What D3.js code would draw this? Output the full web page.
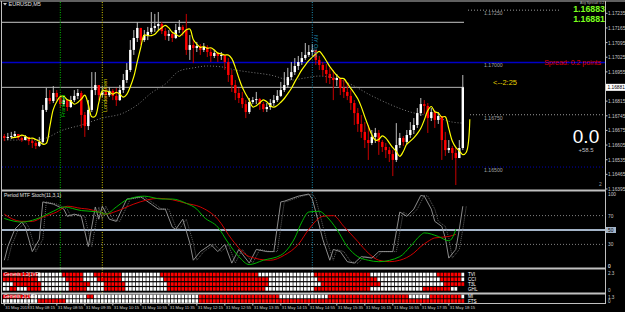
<!DOCTYPE html>
<html>
<head>
<meta charset="utf-8">
<script src="https://cdn.jsdelivr.net/npm/d3@7"></script>
<style>
body { margin: 0; background: #000; }
svg { display: block; font-family: "Liberation Sans", Arial, sans-serif; }
</style>
</head>
<body>
<svg id="chart" width="625" height="312"></svg>
<script>
// EURUSD M5, 31 May 2018, bars 07:40 .. 18:35
const firstOpen = 1.16648;
const closes = [1.16639,1.16644,1.16648,1.16658,1.16639,1.16629,1.16644,1.16624,1.16615,1.16601,
  1.16620,1.16773,1.16830,1.16816,1.16854,1.16835,1.16801,1.16820,1.16787,1.16820,
  1.16840,1.16854,1.16749,1.16696,1.16773,1.16868,1.16892,1.16844,1.16859,1.16844,
  1.16864,1.16840,1.16820,1.16868,1.16916,1.16964,1.17060,1.17117,1.17165,1.17107,
  1.17131,1.17146,1.17165,1.17174,1.17184,1.17150,1.17127,1.17136,1.17117,1.17155,
  1.17170,1.17155,1.17060,1.17083,1.17069,1.17079,1.17060,1.17074,1.17050,1.17031,
  1.17045,1.17031,1.17036,1.17002,1.16940,1.16892,1.16854,1.16830,1.16801,1.16763,
  1.16811,1.16820,1.16825,1.16801,1.16777,1.16787,1.16806,1.16820,1.16840,1.16868,
  1.16892,1.16930,1.16954,1.16983,1.17002,1.17021,1.17036,1.17050,1.17060,1.17012,
  1.16988,1.16964,1.16945,1.16926,1.16916,1.16926,1.16878,1.16859,1.16840,1.16806,
  1.16758,1.16706,1.16668,1.16629,1.16615,1.16644,1.16663,1.16620,1.16596,1.16581,
  1.16562,1.16534,1.16605,1.16639,1.16620,1.16653,1.16677,1.16701,1.16758,1.16801,
  1.16792,1.16734,1.16763,1.16725,1.16744,1.16629,1.16581,1.16591,1.16567,1.16543,
  1.16591,1.16881];
const highs = [1.16658,1.16663,1.16668,1.16672,1.16658,1.16648,1.16653,1.16644,1.16634,1.16624,
  1.16644,1.16797,1.16878,1.16868,1.16887,1.16868,1.16844,1.16840,1.16825,1.16840,
  1.16868,1.16873,1.16864,1.16763,1.16820,1.16954,1.16954,1.16892,1.16887,1.16878,
  1.16883,1.16873,1.16878,1.16892,1.16945,1.16997,1.17107,1.17155,1.17193,1.17155,
  1.17155,1.17170,1.17241,1.17232,1.17241,1.17193,1.17165,1.17155,1.17146,1.17184,
  1.17203,1.17179,1.17232,1.17131,1.17107,1.17098,1.17088,1.17093,1.17083,1.17069,
  1.17060,1.17050,1.17050,1.17036,1.17021,1.16964,1.16916,1.16878,1.16859,1.16820,
  1.16830,1.16835,1.16859,1.16830,1.16811,1.16806,1.16825,1.16844,1.16868,1.16907,
  1.16954,1.16974,1.17002,1.17021,1.17031,1.17050,1.17093,1.17083,1.17088,1.17060,
  1.17031,1.17002,1.16993,1.16974,1.16964,1.16945,1.16926,1.16916,1.16907,1.16868,
  1.16820,1.16782,1.16749,1.16715,1.16701,1.16677,1.16687,1.16677,1.16629,1.16615,
  1.16596,1.16581,1.16710,1.16663,1.16648,1.16677,1.16715,1.16734,1.16782,1.16830,
  1.16820,1.16806,1.16782,1.16773,1.16763,1.16734,1.16668,1.16629,1.16601,1.16591,
  1.16629,1.16940];
const lows = [1.16624,1.16629,1.16634,1.16639,1.16629,1.16620,1.16629,1.16605,1.16591,1.16586,
  1.16596,1.16610,1.16763,1.16801,1.16806,1.16820,1.16782,1.16792,1.16768,1.16782,
  1.16811,1.16825,1.16687,1.16644,1.16677,1.16763,1.16844,1.16820,1.16835,1.16825,
  1.16835,1.16820,1.16792,1.16816,1.16854,1.16902,1.16954,1.17036,1.17098,1.17083,
  1.17098,1.17107,1.17136,1.17146,1.17155,1.17136,1.17107,1.17103,1.17098,1.17112,
  1.17141,1.17127,1.17036,1.17012,1.16997,1.17050,1.17036,1.17050,1.17026,1.17002,
  1.17021,1.17002,1.17012,1.16964,1.16907,1.16859,1.16820,1.16806,1.16782,1.16734,
  1.16754,1.16801,1.16801,1.16773,1.16763,1.16763,1.16773,1.16792,1.16811,1.16835,
  1.16859,1.16878,1.16916,1.16940,1.16964,1.16988,1.17012,1.17026,1.17031,1.16988,
  1.16964,1.16935,1.16902,1.16897,1.16820,1.16887,1.16844,1.16830,1.16820,1.16773,
  1.16701,1.16668,1.16639,1.16591,1.16534,1.16605,1.16615,1.16558,1.16572,1.16543,
  1.16524,1.16457,1.16524,1.16591,1.16601,1.16605,1.16639,1.16658,1.16687,1.16744,
  1.16754,1.16663,1.16720,1.16687,1.16706,1.16534,1.16553,1.16567,1.16534,1.16414,
  1.16553,1.16581];

// slow moving average (grey dotted), read at some bars: [bar, price]
const slowMA = [[0,1.16629],[8,1.16629],[12,1.16639],[16,1.16672],[22,1.16701],[28,1.16734],
  [34,1.16758],[38,1.16797],[42,1.16854],[46,1.16897],[50,1.16959],[54,1.16974],[58,1.16983],
  [62,1.16979],[66,1.16964],[70,1.16954],[76,1.16940],[82,1.16916],[86,1.16926],[90,1.16935],
  [96,1.16916],[100,1.16887],[104,1.16849],[108,1.16816],[112,1.16787],[116,1.16763],
  [120,1.16749],[124,1.16734],[128,1.16715],[131,1.16710]];

// stochastic window: [bar, value]
const stochMain = [[0,8],[1,27],[3,51],[5,61],[6,54],[8,20],[10,37],[11,89],[14,86],[17,79],[18,69],
  [20,72],[22,69],[24,27],[26,82],[27,65],[28,83],[30,65],[32,62],[35,93],[39,96],[42,86],[44,79],
  [46,79],[48,54],[49,51],[51,65],[53,32],[54,8],[56,20],[59,30],[61,20],[63,30],[65,4],[67,23],
  [70,4],[72,23],[75,20],[77,20],[79,89],[80,90],[84,97],[87,100],[88,93],[89,75],[91,37],[93,8],
  [94,23],[96,20],[98,6],[100,4],[102,13],[105,11],[107,20],[111,20],[113,75],[115,69],[117,79],
  [119,98],[120,97],[122,79],[123,62],[125,55],[126,39],[127,11],[129,23],[130,51],[131,83]];
const stochGreen = [[0,66],[5,61],[9,65],[14,76],[17,82],[22,77],[27,75],[29,72],[32,82],[35,92],
  [40,97],[45,93],[48,93],[52,87],[55,79],[57,68],[61,54],[64,32],[67,13],[70,2],[74,8],[79,15],
  [83,39],[85,61],[87,75],[90,76],[92,69],[95,51],[98,27],[101,13],[104,8],[107,6],[113,13],
  [116,27],[119,43],[120,46],[124,41],[127,35],[128,39],[129,51]];
const stochRed = [[0,72],[2,66],[5,62],[8,62],[11,68],[15,75],[18,83],[22,80],[24,79],[27,75],
  [29,72],[32,76],[37,86],[41,92],[44,94],[48,92],[52,87],[56,82],[61,65],[65,37],[70,13],[76,8],
  [80,15],[84,30],[87,51],[91,69],[94,70],[97,55],[101,34],[104,18],[107,8],[110,6],[113,8],
  [117,18],[119,27],[121,34],[123,39],[127,41],[129,44]];
const stochLevels = [70, 50, 30];
const stochTicks = ["100", "70", "50", "30", "0"];

// Genesis matrix rows, run lengths per bar (R = red, W = white)
const genesisNames = ["TVI", "CCI", "T3L", "GHL"];
const genesisRuns = [
  "R10W7R6W3R8W11R28W16R16W19R7W1",
  "R10W8R5W4R7W12R30W14R17W18R6W1",
  "W3R8W8R6W4R6W12R29W15R17W18R6",
  "W2R2W3R4W8R5W5R6W12R28W14R16W15R8W2"];
const genesis2Names = ["MI", "FTS"];
const genesis2Runs = [
  "R8W16R2W30R23W14R23W6R9W1",
  "W10R8W38R76"];

// levels and annotations
const roundLevels = [1.17250, 1.17000, 1.16750, 1.16500];
const dayHigh = 1.17192;
const bid = 1.16881, ask = 1.16883;
const priceTicks = ["1.17235","1.17165","1.17095","1.17025","1.16955","1.16885","1.16815",
  "1.16745","1.16675","1.16605","1.16535","1.16465","1.16395"];
const timeLabels = ["31 May 2018","31 May 08:15","31 May 08:55","31 May 09:35","31 May 10:15",
  "31 May 10:55","31 May 11:35","31 May 12:15","31 May 12:55","31 May 13:35","31 May 14:15",
  "31 May 14:55","31 May 15:35","31 May 16:15","31 May 16:55","31 May 17:35","31 May 18:15"];
const timeBars = [0,7,15,23,31,39,47,55,63,71,79,87,95,103,111,119,127];
const sessions = [
  { bar: 16, name: "Frankfurt", color: "#00c800" },
  { bar: 28, name: "London Open", color: "#d4c800" },
  { bar: 88, name: "NY Open", color: "#1e90b4" }];

const svg = d3.select("#chart");
const W = 625, H = 312;
const left = 2, right = 605.5;

svg.append("rect").attr("width", W).attr("height", H).attr("fill", "#000");

const x = d3.scaleLinear().domain([0, 131]).range([4.3, 462.8]);
const y = d3.scaleLinear().domain([1.16395, 1.17235]).range([189, 13.3]);
const ys = d3.scaleLinear().domain([0, 100]).range([266, 194]);

svg.append("clipPath").attr("id", "mainClip")
  .append("rect").attr("x", left).attr("y", 2).attr("width", right - left).attr("height", 188);
svg.append("clipPath").attr("id", "stochClip")
  .append("rect").attr("x", left).attr("y", 192).attr("width", right - left).attr("height", 76);

const main = svg.append("g").attr("clip-path", "url(#mainClip)");

// round levels
main.append("line").attr("x1", 468).attr("x2", 560).attr("y1", y(roundLevels[0])).attr("y2", y(roundLevels[0]))
  .attr("stroke", "#9a9a9a").attr("stroke-dasharray", "1,2");
main.append("line").attr("x1", left).attr("x2", right).attr("y1", y(roundLevels[1])).attr("y2", y(roundLevels[1]))
  .attr("stroke", "#0000c8").attr("stroke-width", 1.5);
main.append("line").attr("x1", 470).attr("x2", right).attr("y1", y(roundLevels[2])).attr("y2", y(roundLevels[2]))
  .attr("stroke", "#9a9a9a").attr("stroke-dasharray", "1,2");
main.append("line").attr("x1", left).attr("x2", right).attr("y1", y(roundLevels[3])).attr("y2", y(roundLevels[3]))
  .attr("stroke", "#0000b4").attr("stroke-dasharray", "1,2");
roundLevels.forEach(v => {
  main.append("text").attr("x", 484).attr("y", y(v) + 5).attr("font-size", 5.2)
    .attr("fill", "#a0a0a0").text(v.toFixed(5));
});

// day high and bid line
main.append("line").attr("x1", left).attr("x2", 464).attr("y1", y(dayHigh)).attr("y2", y(dayHigh))
  .attr("stroke", "#c8c8c8");
main.append("line").attr("x1", left).attr("x2", 464).attr("y1", y(bid)).attr("y2", y(bid))
  .attr("stroke", "#b4b4b4");

// session lines
sessions.forEach(s => {
  svg.append("line").attr("x1", x(s.bar)).attr("x2", x(s.bar)).attr("y1", 2).attr("y2", 303)
    .attr("stroke", s.color).attr("stroke-dasharray", "1,1.5");
});

// slow MA
main.append("path").datum(slowMA)
  .attr("d", d3.line().x(d => x(d[0])).y(d => y(d[1])).curve(d3.curveMonotoneX))
  .attr("fill", "none").attr("stroke", "#7a7a7a").attr("stroke-dasharray", "1,2");

// candles
const bars = closes.map((c, i) => {
  const o = i === 0 ? firstOpen : closes[i - 1];
  return { i, o, c, h: Math.max(highs[i], o, c), l: Math.min(lows[i], o, c) };
});
const cg = main.append("g");
cg.selectAll("line.wick").data(bars).join("line")
  .attr("x1", d => x(d.i)).attr("x2", d => x(d.i))
  .attr("y1", d => y(d.h)).attr("y2", d => y(d.l))
  .attr("stroke", d => d.c >= d.o ? "#bdbdbd" : "#c80000");
cg.selectAll("rect").data(bars).join("rect")
  .attr("x", d => x(d.i) - 1.2).attr("width", 2.4)
  .attr("y", d => y(Math.max(d.o, d.c)))
  .attr("height", d => Math.max(1, Math.abs(y(d.o) - y(d.c))))
  .attr("fill", d => d.c >= d.o ? "#ffffff" : "#ff0000");

// fast MA: 3-bar weighted average of closes, shifted 2 bars forward
const fast = closes.map((c, i) => {
  const a = closes[Math.max(0, i - 2)], b = closes[Math.max(0, i - 1)];
  return [i + 2, (3 * c + 2 * b + a) / 6];
});
main.append("path").datum(fast)
  .attr("d", d3.line().x(d => x(d[0])).y(d => y(d[1])).curve(d3.curveCatmullRom))
  .attr("fill", "none").attr("stroke", "#ffff00").attr("stroke-width", 1.2);

// session labels
sessions.forEach((s, k) => {
  const ty = [117, 112, 35][k];
  const lbl = svg.append("text").attr("transform", `translate(${x(s.bar) + 5},${ty}) rotate(-90)`)
    .attr("font-size", 5.5).attr("fill", s.color).text(s.name);
  if (k === 2) lbl.attr("transform", `translate(${x(s.bar) + 2},${ty}) rotate(90)`);
});

// panel frames
const frame = svg.append("g").attr("stroke", "#c0c0c0").attr("fill", "none");
frame.append("line").attr("x1", 0).attr("x2", W).attr("y1", 1).attr("y2", 1);
frame.append("line").attr("x1", 1.5).attr("x2", 1.5).attr("y1", 1).attr("y2", 303);
frame.append("line").attr("x1", right).attr("x2", right).attr("y1", 1).attr("y2", 304);
frame.append("line").attr("x1", 1).attr("x2", right).attr("y1", 190.5).attr("y2", 190.5).attr("stroke-width", 2);
frame.append("line").attr("x1", 1).attr("x2", right).attr("y1", 268.5).attr("y2", 268.5).attr("stroke-width", 2);
frame.append("line").attr("x1", 1).attr("x2", right).attr("y1", 293.5).attr("y2", 293.5).attr("stroke-width", 2);
frame.append("line").attr("x1", 1).attr("x2", right).attr("y1", 303.5).attr("y2", 303.5);

// price axis
priceTicks.forEach(t => {
  if (t === "1.16885") return;
  const py = y(+t);
  svg.append("line").attr("x1", right).attr("x2", right + 2).attr("y1", py).attr("y2", py).attr("stroke", "#c0c0c0");
  svg.append("text").attr("x", 608).attr("y", py + 2).attr("font-size", 4.8).attr("fill", "#c8c8c8").text(t);
});
svg.append("rect").attr("x", 606).attr("y", y(bid) - 3.5).attr("width", 19).attr("height", 7).attr("fill", "#ffffff");
svg.append("text").attr("x", 607.5).attr("y", y(bid) + 2).attr("font-size", 4.8).attr("fill", "#000").text(bid.toFixed(5));

// top texts
svg.append("path").attr("d", "M3,3 L7,3 L5,5.5 Z").attr("fill", "#c8c8c8");
svg.append("text").attr("x", 8.5).attr("y", 6).attr("font-size", 5.5).attr("fill", "#e0e0e0").text("EURUSD,M5");
svg.append("text").attr("x", 580).attr("y", 3.6).attr("font-size", 3.4).attr("fill", "#b0b0b0").text("Avg Spread: 0.2");
svg.append("text").attr("x", 605).attr("y", 12).attr("text-anchor", "end").attr("font-size", 8.8).attr("font-weight", "bold")
  .attr("fill", "#7cff1e").text(ask.toFixed(5));
svg.append("text").attr("x", 605).attr("y", 21.5).attr("text-anchor", "end").attr("font-size", 8.8).attr("font-weight", "bold")
  .attr("fill", "#7cff1e").text(bid.toFixed(5));
svg.append("text").attr("x", 601).attr("y", 65).attr("text-anchor", "end").attr("font-size", 7).attr("fill", "#e00000")
  .text("Spread: 0.2 points");
svg.append("text").attr("x", 493).attr("y", 84.5).attr("font-size", 7.5).attr("fill", "#e6d200").text("<--2:25");
svg.append("text").attr("x", 586).attr("y", 143).attr("text-anchor", "middle").attr("font-size", 19).attr("fill", "#ffffff").text("0.0");
svg.append("text").attr("x", 586).attr("y", 152).attr("text-anchor", "middle").attr("font-size", 6).attr("fill", "#c0c0c0").text("+58.5");
svg.append("text").attr("x", 599).attr("y", 186).attr("font-size", 5).attr("fill", "#a0a0a0").text("2");

// stochastic window
const st = svg.append("g").attr("clip-path", "url(#stochClip)");
stochLevels.forEach(v => {
  st.append("line").attr("x1", left).attr("x2", right).attr("y1", ys(v)).attr("y2", ys(v))
    .attr("stroke", v === 50 ? "#a4b4c8" : "#808080")
    .attr("stroke-width", v === 50 ? 2 : 1)
    .attr("stroke-dasharray", v === 50 ? null : "1,2");
});
const sl = d3.line().x(d => x(d[0])).y(d => ys(d[1]));
st.append("path").datum(stochMain.map(d => [d[0] + 1, d[1]])).attr("d", sl)
  .attr("fill", "none").attr("stroke", "#7a7a7a").attr("stroke-width", 0.8).attr("stroke-dasharray", "1,1");
st.append("path").datum(stochMain).attr("d", sl).attr("fill", "none").attr("stroke", "#9a9a9a").attr("stroke-width", 0.9);
st.append("path").datum(stochRed).attr("d", sl.curve(d3.curveMonotoneX)).attr("fill", "none").attr("stroke", "#d00000");
st.append("path").datum(stochGreen).attr("d", sl.curve(d3.curveMonotoneX)).attr("fill", "none").attr("stroke", "#00b400");
svg.append("text").attr("x", 4).attr("y", 197).attr("font-size", 5).attr("fill", "#e0e0e0").text("Period MTF Stoch(11,3,1)");
stochTicks.forEach(t => {
  const py = ys(+t);
  if (t === "50") {
    svg.append("rect").attr("x", 606).attr("y", py - 3).attr("width", 10).attr("height", 6).attr("fill", "#a4b4c8");
  }
  svg.append("text").attr("x", 608).attr("y", py + 2).attr("font-size", 4.8)
    .attr("fill", t === "50" ? "#000" : "#c8c8c8").text(t);
});

// genesis matrix
function expand(runs) {
  const out = [];
  runs.match(/[RW]\d+/g).forEach(r => {
    for (let k = 0; k < +r.slice(1); k++) out.push(r[0]);
  });
  return out;
}
function drawRows(names, runs, rowY) {
  names.forEach((n, r) => {
    const cells = expand(runs[r]).map((c, i) => ({ i, c }));
    svg.append("g").selectAll("rect").data(cells).join("rect")
      .attr("x", d => x(d.i) - 1.4).attr("width", 2.8)
      .attr("y", rowY[r] - 1.8).attr("height", 3.6)
      .attr("fill", d => d.c === "R" ? "#ff0000" : "#ffffff");
    svg.append("text").attr("x", 468).attr("y", rowY[r] + 1.8).attr("font-size", 4.6)
      .attr("fill", "#ffffff").text(n);
  });
}
drawRows(genesisNames, genesisRuns, [274.5, 279.3, 284.1, 288.9]);
drawRows(genesis2Names, genesis2Runs, [296.5, 301]);
svg.append("text").attr("x", 4).attr("y", 276).attr("font-size", 4.6).attr("fill", "#ffffff").text("Genesis 1.2(1VE)");
svg.append("text").attr("x", 4).attr("y", 298).attr("font-size", 4.6).attr("fill", "#ffffff").text("Genesis 2(1VE)");
[["0", 266], ["2.3", 273], ["0", 290], ["1.3", 297], ["0", 301.5]].forEach(d => {
  svg.append("text").attr("x", 608).attr("y", d[1] + 1.5).attr("font-size", 4.6).attr("fill", "#c8c8c8").text(d[0]);
});

// time axis
timeBars.forEach((b, k) => {
  svg.append("line").attr("x1", x(b)).attr("x2", x(b)).attr("y1", 303).attr("y2", 305.5).attr("stroke", "#c0c0c0");
  svg.append("text").attr("x", x(b) + 1).attr("y", 309).attr("font-size", 4.2).attr("fill", "#d0d0d0").text(timeLabels[k]);
});
</script>
</body>
</html>
